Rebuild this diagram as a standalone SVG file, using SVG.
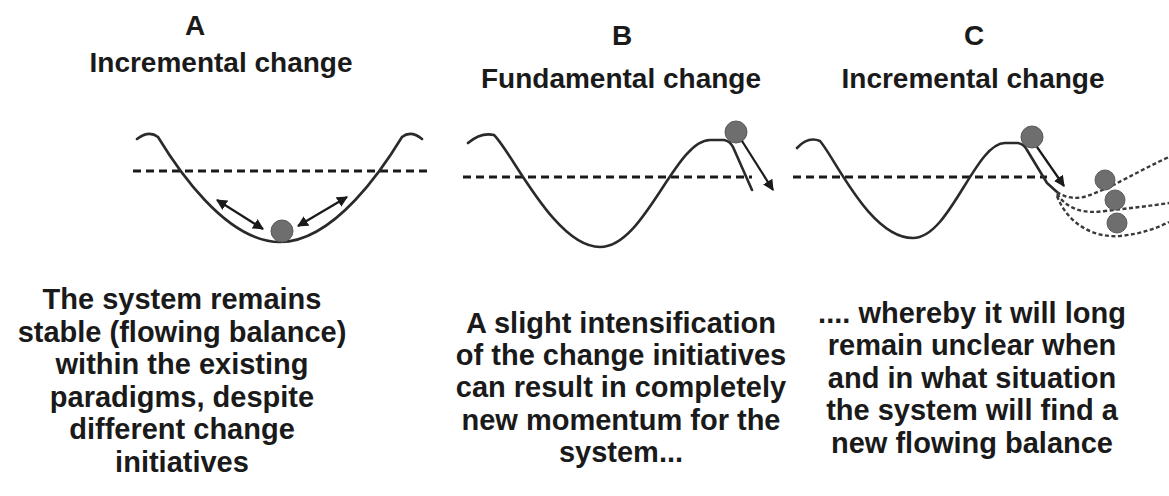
<svg xmlns="http://www.w3.org/2000/svg" width="1169" height="496" viewBox="0 0 1169 496">
  <defs>
    <marker id="ah" viewBox="0 0 10 10" refX="9" refY="5" markerWidth="5" markerHeight="5" orient="auto-start-reverse" markerUnits="strokeWidth">
      <path d="M0,0 L10,5 L0,10 z" fill="#1a1a1a"/>
    </marker>
    <style>
      .t { font-family: "Liberation Sans", Arial, sans-serif; font-weight: bold; fill: #1a1a1a; text-anchor: middle; }
      .title { font-size: 28px; }
      .body { font-size: 29px; }
      .curve { fill: none; stroke: #2a2a2a; stroke-width: 2.6; stroke-linecap: round; stroke-linejoin: round; }
      .level { fill: none; stroke: #1a1a1a; stroke-width: 3; stroke-dasharray: 8 5; }
      .path { fill: none; stroke: #3a3a3a; stroke-width: 2.4; stroke-dasharray: 4 2.5; }
      .arrow { fill: none; stroke: #1a1a1a; stroke-width: 2.2; }
      .ball { fill: #6e6e6e; stroke: #5a5a5a; stroke-width: 1; }
    </style>
  </defs>
  <rect width="1169" height="496" fill="#ffffff"/>

  <g id="panel-A">
    <text class="t title" x="195" y="35">A</text>
    <text class="t title" x="221" y="72">Incremental change</text>
    <line class="level" x1="133" y1="171" x2="432" y2="171"/>
    <path class="curve" d="M137,139 Q149,130 158,137 C175,165 225,242 280,242 C335,242 385,165 402,137 Q411,130 422,139"/>
    <circle class="ball" cx="282" cy="231" r="11"/>
    <text class="t body" x="182" y="309">The system remains</text>
    <text class="t body" x="182" y="342">stable (flowing balance)</text>
    <text class="t body" x="182" y="374">within the existing</text>
    <text class="t body" x="182" y="407">paradigms, despite</text>
    <text class="t body" x="182" y="439">different change</text>
    <text class="t body" x="182" y="472">initiatives</text>
  </g>

  <g id="panel-B">
    <text class="t title" x="622" y="45">B</text>
    <text class="t title" x="621" y="88">Fundamental change</text>
    <line class="level" x1="463" y1="177" x2="752" y2="177"/>
    <path class="curve" d="M468,143 Q481,132 494,135 C512,152 555,247 600,247 C645,247 675,140 710,140 L724,140 Q730,141 733,147 L752,190"/>
    <circle class="ball" cx="736" cy="132" r="11"/>
    <text class="t body" x="621" y="333">A slight intensification</text>
    <text class="t body" x="621" y="365">of the change initiatives</text>
    <text class="t body" x="621" y="397">can result in completely</text>
    <text class="t body" x="621" y="430">new momentum for the</text>
    <text class="t body" x="621" y="462">system...</text>
  </g>

  <g id="panel-C">
    <text class="t title" x="974" y="45">C</text>
    <text class="t title" x="973" y="88">Incremental change</text>
    <line class="level" x1="793" y1="177" x2="1047" y2="177"/>
    <path class="curve" d="M797,148 Q808,136 820,141 C835,158 870,238 913,238 C950,238 975,143 1005,143 L1018,143 Q1024,144 1027,150 L1047,183 L1057,192"/>
    <path class="path" d="M1057,192 C1065,198 1078,200 1090,195 C1115,186 1140,170 1169,157"/>
    <path class="path" d="M1057,194 C1068,210 1085,214 1105,211 C1130,208 1150,206 1169,203"/>
    <path class="path" d="M1057,196 C1068,225 1095,238 1120,236 C1140,234 1155,229 1169,222"/>
    <circle class="ball" cx="1032" cy="137" r="11"/>
    <circle class="ball" cx="1105" cy="180" r="10"/>
    <circle class="ball" cx="1115" cy="200" r="10"/>
    <circle class="ball" cx="1117" cy="223" r="10"/>
    <text class="t body" x="972" y="323">.... whereby it will long</text>
    <text class="t body" x="972" y="355">remain unclear when</text>
    <text class="t body" x="972" y="388">and in what situation</text>
    <text class="t body" x="972" y="420">the system will find a</text>
    <text class="t body" x="972" y="453">new flowing balance</text>
  </g>

  <g id="connectors">
    <line class="arrow" x1="217" y1="200" x2="263" y2="229" marker-start="url(#ah)" marker-end="url(#ah)"/>
    <line class="arrow" x1="298" y1="226" x2="347" y2="197" marker-start="url(#ah)" marker-end="url(#ah)"/>
    <line class="arrow" x1="742" y1="141" x2="773" y2="190" marker-end="url(#ah)"/>
    <line class="arrow" x1="1037" y1="147" x2="1064" y2="186" marker-end="url(#ah)"/>
  </g>
</svg>
